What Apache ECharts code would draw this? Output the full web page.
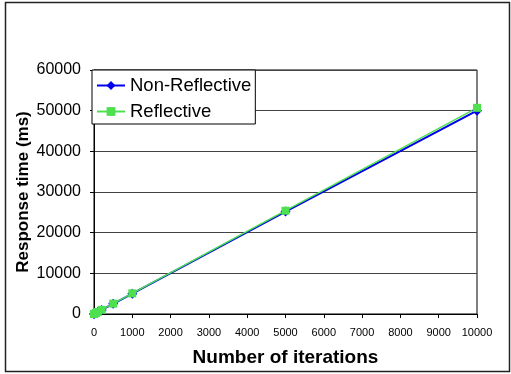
<!DOCTYPE html>
<html><head><meta charset="utf-8">
<script src="https://cdn.jsdelivr.net/npm/echarts@6/dist/echarts.min.js"></script>
<style>html,body{margin:0;padding:0;background:#fff}#c{width:511px;height:374px}</style>
</head><body><div id="c"></div>
<script>
const iterations = [0, 10, 50, 100, 200, 500, 1000, 5000, 10000];
const nonReflective = [0, 50, 250, 500, 1000, 2500, 5000, 25200, 50000];
const reflective = [0, 52, 260, 510, 1020, 2550, 5080, 25400, 50700];
const xTicks = [0,1000,2000,3000,4000,5000,6000,7000,8000,9000,10000];
const yTicks = [0,10000,20000,30000,40000,50000,60000];

const chart = echarts.init(document.getElementById('c'), null, {renderer:'canvas'});
const font = 'Liberation Sans, Arial, sans-serif';
chart.setOption({
  animation:false,
  backgroundColor:'#fff',
  graphic:[{type:'rect',shape:{x:5.5,y:2.5,width:504,height:369},style:{fill:'none',stroke:'#222',lineWidth:1.5},z:-1}],
  grid:{left:94,right:34,top:70,bottom:60,show:true,borderColor:'#000',borderWidth:1},
  legend:{
    left:92,top:70,orient:'vertical',itemGap:7,padding:[6,4,3,4],
    backgroundColor:'#fff',borderColor:'#000',borderWidth:1,
    itemWidth:28,itemHeight:11,
    textStyle:{fontFamily:font,fontSize:18.5,color:'#000'},
    data:['Non-Reflective','Reflective']
  },
  xAxis:{
    type:'value',min:0,max:10000,interval:1000,
    name:'Number of iterations',nameLocation:'middle',nameGap:34,nameMoveOverlap:false,
    nameTextStyle:{fontFamily:font,fontSize:19,fontWeight:'bold',color:'#000'},
    axisLine:{lineStyle:{color:'#000'}},
    axisTick:{show:true,inside:false,length:4,lineStyle:{color:'#000'}},
    axisLabel:{fontFamily:font,fontSize:11,color:'#000',margin:13,formatter:v=>String(v)},
    splitLine:{show:false}
  },
  yAxis:{
    type:'value',min:0,max:60000,interval:10000,
    name:'Response time (ms)',nameLocation:'middle',nameGap:62,nameMoveOverlap:false,
    nameTextStyle:{fontFamily:font,fontSize:17,fontWeight:'bold',color:'#000'},
    axisLine:{show:true,lineStyle:{color:'#000'}},
    axisTick:{show:true,length:4,lineStyle:{color:'#000'}},
    axisLabel:{fontFamily:font,fontSize:16,color:'#000',margin:13,formatter:v=>String(v)},
    splitLine:{show:true,lineStyle:{color:'#444',width:1}}
  },
  series:[
    {name:'Non-Reflective',type:'line',data:iterations.map((x,i)=>[x,nonReflective[i]]),
     symbol:'diamond',symbolSize:10,itemStyle:{color:'#0000ee'},lineStyle:{color:'#0000ee',width:2}},
    {name:'Reflective',type:'line',data:iterations.map((x,i)=>[x,reflective[i]]),
     symbol:'rect',symbolSize:8,itemStyle:{color:'#4fe04f'},lineStyle:{color:'#4fe04f',width:1.5}}
  ]
});
</script></body></html>
